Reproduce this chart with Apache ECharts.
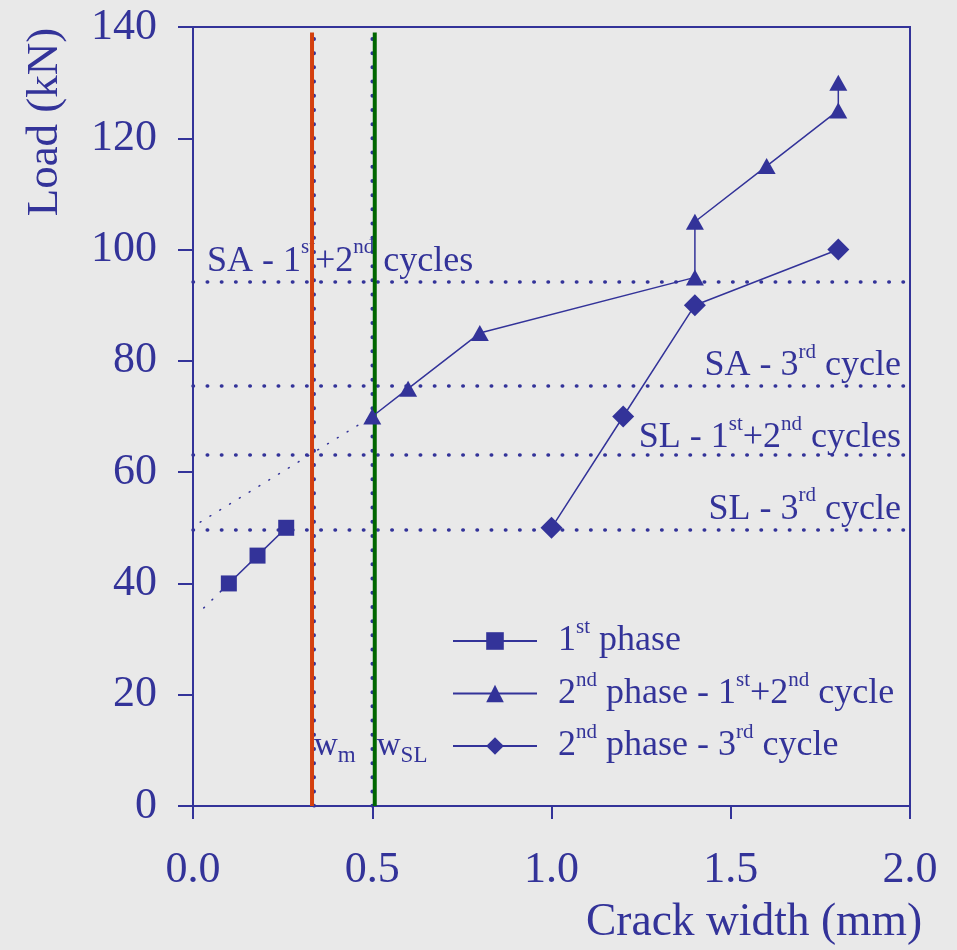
<!DOCTYPE html>
<html>
<head>
<meta charset="utf-8">
<script src="https://cdn.jsdelivr.net/npm/echarts@6/dist/echarts.min.js"></script>
<style>
  html, body { margin: 0; padding: 0; background: #e9e9e9; }
  #main { width: 957px; height: 950px; }
</style>
</head>
<body>
<div id="main"></div>
<script>
let blue = "#333399";
let orange = "#d4400f";
let green = "#006600";
let font = "Liberation Serif";

// values
let phase1 = [[0.1, 40], [0.18, 45], [0.26, 50]];
let phase2a = [[0.5, 70], [0.6, 75], [0.8, 85], [1.4, 95], [1.4, 105], [1.6, 115], [1.8, 125], [1.8, 130]];
let phase2b = [[1.0, 50], [1.2, 70], [1.4, 90], [1.8, 100]];
let ext1 = [[0.03, 35.6], [0.1, 40]];
let ext2 = [[0.02, 51], [0.5, 70]];
let levels = [94.3, 75.5, 63.1, 49.7];
let levelNames = ["SA - 1st+2nd cycles", "SA - 3rd cycle", "SL - 1st+2nd cycles", "SL - 3rd cycle"];
let wm = 0.332;
let wsl = 0.507;
let wTop = 139;
let dotX = [0.338, 0.5];
let dotTop = 138;
let names = ["1st phase", "2nd phase - 1st+2nd cycle", "2nd phase - 3rd cycle"];

// 1st, 2nd, 3rd -> superscript tokens
function sup(s) {
  return "{n|" + s.replace(/(\d)(st|nd|rd)/g, "$1}{s|$2}{n|") + "}";
}

let rich = {
  n: { fontSize: 36, fontFamily: font, color: blue, lineHeight: 48 },
  s: { fontSize: 21, fontFamily: font, color: blue, lineHeight: 21, verticalAlign: "top" }
};

let dots = { color: blue, width: 3.5, type: [0.5, 13.7], cap: "round" };
let fine = { color: blue, width: 1.5, type: [1, 10.5], cap: "round" };

let chart = echarts.init(document.getElementById("main"));

let levelLines = levels.map((v, i) => ({
  yAxis: v,
  label: {
    show: true,
    position: i === 0 ? "insideStartTop" : "insideEndTop",
    distance: i === 0 ? [14, -4] : (i === 2 ? [9, -7] : [9, -4]),
    formatter: sup(levelNames[i]),
    rich: rich
  }
}));

let option = {
  animation: false,
  backgroundColor: "#e9e9e9",
  grid: { left: 193, right: 47, top: 27, bottom: 144, show: true, borderColor: blue, borderWidth: 2 },
  xAxis: {
    type: "value", min: 0, max: 2, interval: 0.5,
    axisLine: { lineStyle: { color: blue, width: 2 } },
    axisTick: { length: 13, lineStyle: { color: blue, width: 2 } },
    axisLabel: { color: blue, fontFamily: font, fontSize: 44, margin: 42, formatter: (v) => v.toFixed(1) },
    splitLine: { show: false }
  },
  yAxis: {
    type: "value", min: 0, max: 140, interval: 20,
    axisLine: { lineStyle: { color: blue, width: 2 } },
    axisTick: { length: 15, lineStyle: { color: blue, width: 2 } },
    axisLabel: { color: blue, fontFamily: font, fontSize: 44, margin: 36 },
    splitLine: { show: false }
  },
  legend: {
    data: names,
    orient: "vertical",
    left: 452, top: 617, padding: 0,
    itemWidth: 84, itemHeight: 22, itemGap: 10.5,
    selectedMode: false,
    formatter: (name) => sup(name),
    textStyle: { color: blue, padding: [0, 0, 0, 16], rich: rich }
  },
  series: [
    {
      type: "line", name: "levels", data: [], silent: true,
      markLine: { symbol: ["none", "none"], silent: true, lineStyle: dots, data: levelLines }
    },
    { type: "line", name: "dots1", data: [[dotX[0], 0], [dotX[0], dotTop]], symbol: "none", lineStyle: dots, silent: true },
    { type: "line", name: "dots2", data: [[dotX[1], 0], [dotX[1], dotTop]], symbol: "none", lineStyle: dots, silent: true },
    { type: "line", name: "ext1", data: ext1, symbol: "none", lineStyle: fine, silent: true },
    { type: "line", name: "ext2", data: ext2, symbol: "none", lineStyle: fine, silent: true },
    { type: "line", name: "wm", data: [[wm, 0], [wm, wTop]], symbol: "none", lineStyle: { color: orange, width: 4 }, z: 6, silent: true },
    { type: "line", name: "wsl", data: [[wsl, 0], [wsl, wTop]], symbol: "none", lineStyle: { color: green, width: 4 }, z: 6, silent: true },
    {
      type: "line", name: names[0], data: phase1, symbol: "rect", symbolSize: 16,
      itemStyle: { color: blue }, lineStyle: { color: blue, width: 1.5 }, z: 7
    },
    {
      type: "line", name: names[1], data: phase2a, symbol: "triangle", symbolSize: [18, 16],
      itemStyle: { color: blue }, lineStyle: { color: blue, width: 1.5 }, z: 7
    },
    {
      type: "line", name: names[2], data: phase2b, symbol: "diamond", symbolSize: 22,
      itemStyle: { color: blue }, lineStyle: { color: blue, width: 1.5 }, z: 7
    }
  ]
};

chart.setOption(option);

// annotations placed from data coordinates
let pm = chart.convertToPixel({ gridIndex: 0 }, [wm, 6.9]);
let ps = chart.convertToPixel({ gridIndex: 0 }, [wsl, 6.9]);
let wRich = {
  w: { fontSize: 33, fontFamily: font, fill: blue, lineHeight: 33, padding: [0, 0, 9, 0] },
  b: { fontSize: 23, fontFamily: font, fill: blue, lineHeight: 23, verticalAlign: "bottom" }
};

chart.setOption({
  graphic: [
    {
      type: "text", x: 45, y: 122, rotation: Math.PI / 2,
      style: { text: "Load (kN)", fill: blue, font: "45px '" + font + "'", align: "center", verticalAlign: "middle" }
    },
    {
      type: "text", x: 754, y: 923,
      style: { text: "Crack width (mm)", fill: blue, font: "45.5px '" + font + "'", align: "center", verticalAlign: "middle" }
    },
    {
      type: "text", x: pm[0] + 2, y: pm[1],
      style: { text: "{w|w}{b|m}", rich: wRich, fill: blue, align: "left", verticalAlign: "bottom" }
    },
    {
      type: "text", x: ps[0] + 2, y: ps[1],
      style: { text: "{w|w}{b|SL}", rich: wRich, fill: blue, align: "left", verticalAlign: "bottom" }
    }
  ]
});
</script>
</body>
</html>
